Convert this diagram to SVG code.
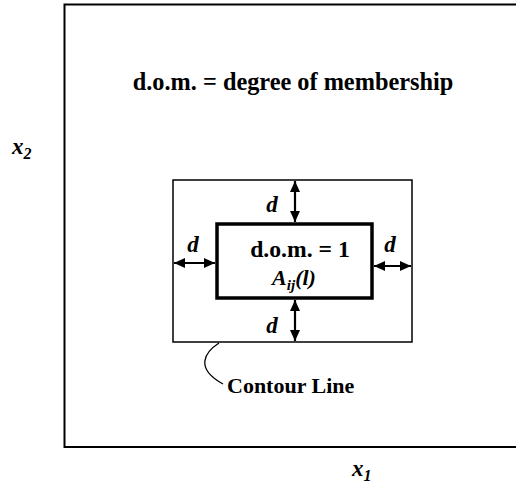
<svg xmlns="http://www.w3.org/2000/svg" width="516" height="488" viewBox="0 0 516 488">
<style>
text{font-family:'Liberation Serif','Times New Roman',Tinos,'DejaVu Serif',serif;font-weight:bold;fill:#000}
.i{font-style:italic}
.ln{fill:none;stroke:#000}
</style>
<defs>
<marker id="ah" viewBox="0 0 11 10" refX="11" refY="5" markerWidth="11" markerHeight="10" markerUnits="userSpaceOnUse" orient="auto-start-reverse">
<path d="M0,0 L11,5 L0,10 Z" fill="#000"/>
</marker>
</defs>
<rect width="516" height="488" fill="#fff"/>
<g id="frame">
<polyline class="ln" stroke-width="2" points="520,4.5 64.5,4.5 64.5,447 520,447"/>
</g>
<g id="title"><text x="293" y="90" font-size="24.3" text-anchor="middle">d.o.m. = degree of membership</text></g>
<g id="axis-x2"><text class="i" x="12" y="154" font-size="23">x<tspan font-size="16" dy="5">2</tspan></text></g>
<g id="axis-x1"><text class="i" x="352" y="476" font-size="23">x<tspan font-size="16" dy="5">1</tspan></text></g>
<g id="contour">
<rect class="ln" x="173" y="180" width="239" height="162" stroke-width="1.5"/>
</g>
<g id="core">
<rect class="ln" x="217" y="224" width="155" height="74" stroke-width="3.5"/>
<text x="300" y="257" font-size="23.7" text-anchor="middle">d.o.m. = 1</text>
<text class="i" x="294" y="285" font-size="22" text-anchor="middle">A<tspan font-size="15" dy="5">ij</tspan><tspan dy="-5">(l)</tspan></text>
</g>
<g id="connectors">
<line class="ln" x1="295" y1="181" x2="295" y2="222" stroke-width="2.2" marker-start="url(#ah)" marker-end="url(#ah)"/>
<line class="ln" x1="295" y1="300" x2="295" y2="341" stroke-width="2.2" marker-start="url(#ah)" marker-end="url(#ah)"/>
<line class="ln" x1="174" y1="263" x2="215" y2="263" stroke-width="2.2" marker-start="url(#ah)" marker-end="url(#ah)"/>
<line class="ln" x1="374" y1="266" x2="411" y2="266" stroke-width="2.2" marker-start="url(#ah)" marker-end="url(#ah)"/>
<path class="ln" d="M219,343 C205,352 194,368 223,384" stroke-width="1.3"/>
</g>
<g id="labels">
<text class="i" x="272" y="212" font-size="23" text-anchor="middle">d</text>
<text class="i" x="193" y="252" font-size="23" text-anchor="middle">d</text>
<text class="i" x="390" y="252" font-size="23" text-anchor="middle">d</text>
<text class="i" x="272" y="333" font-size="23" text-anchor="middle">d</text>
<text x="227" y="393" font-size="22">Contour Line</text>
</g>
</svg>
